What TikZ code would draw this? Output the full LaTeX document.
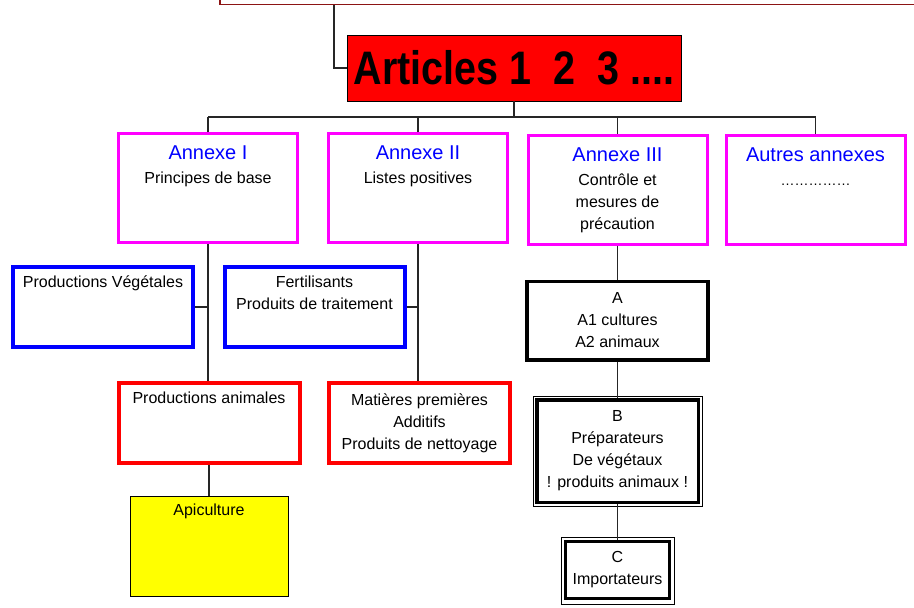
\documentclass[tikz,border=0pt]{standalone}
\usepackage{fontspec}
\setmainfont{Liberation Sans}
\newfontfamily\artfont[FakeStretch=0.84]{Liberation Sans}
\usepackage{tikz}
\definecolor{darkred}{RGB}{140,20,20}
\definecolor{annexmag}{RGB}{255,0,255}
\definecolor{boxblue}{RGB}{0,0,255}
\definecolor{boxred}{RGB}{255,0,0}
\definecolor{apiyellow}{RGB}{255,255,0}
\newcommand{\annexetitle}[1]{{\color{boxblue}\fontsize{20}{22}\selectfont #1}}

\begin{document}
\begin{tikzpicture}[x=1pt,y=-1pt,
    link/.style={draw=black!85,line width=1.2pt},
    bodytext/.style={align=center,font=\fontsize{16}{22}\selectfont},
    toptext/.style={bodytext,anchor=north,inner sep=0pt},
    topbox/.style={draw=darkred,line width=1.5pt,minimum width=700pt,minimum height=33pt},
    artbox/.style={draw=black,fill=boxred,line width=0.8pt,inner sep=0pt,minimum width=334pt,minimum height=66pt,font=\artfont\bfseries\fontsize{47}{47}\selectfont},
    annexe/.style={draw=annexmag,line width=3pt,minimum width=179pt,minimum height=109pt},
    bluebox/.style={draw=boxblue,line width=4pt,minimum width=180pt,minimum height=80pt},
    redbox/.style={draw=boxred,line width=4pt,minimum width=181pt,minimum height=80pt,bodytext},
    apibox/.style={draw=black,fill=apiyellow,line width=0.8pt,minimum width=158pt,minimum height=100pt},
    blackbox/.style={draw=black,line width=3.5pt,bodytext}]
  \path[use as bounding box,fill=white] (0,0) rectangle (914,608);

  % top: reglement and articles
  \node[topbox] (loi) at (570,-12) {};
  \node[artbox] (art) at (514,68) {Articles 1~~2~~3 ....};
  \coordinate (jct) at (334,0);
  \coordinate (bus) at (0,117);

  % annexes
  \node[annexe,label={[toptext,yshift=-14pt]north:{\annexetitle{Annexe I}\\[2pt]Principes de base}}] (a1) at (208,188) {};
  \node[annexe,label={[toptext,yshift=-14pt]north:{\annexetitle{Annexe II}\\[2pt]Listes positives}}] (a2) at (418,188) {};
  \node[annexe,label={[toptext,yshift=-14pt]north:{\annexetitle{Annexe III}\\[2pt]Contrôle et\\mesures de\\précaution}}] (a3) at (617.5,189.5) {};
  \node[annexe,label={[toptext,yshift=-14pt]north:{\annexetitle{Autres annexes}\\[2pt]{\fontsize{14}{22}\selectfont ……………}}}] (a4) at (815.5,189.5) {};

  % annexe I and II
  \node[bluebox,label={[toptext,yshift=-11pt]north:{Productions Végétales}}] (veg) at (103,307) {};
  \node[bluebox,label={[toptext,yshift=-11pt]north:{Fertilisants\\Produits de traitement}}] (fert) at (314.5,307) {};
  \node[redbox,label={[toptext,yshift=-11pt]north:{Productions animales}}] (anim) at (209,423) {};
  \node[redbox] (mat) at (419.5,423) {Matières premières\\Additifs\\Produits de nettoyage};
  \node[apibox,label={[toptext,yshift=-8pt]north:{Apiculture}}] (api) at (209,546.5) {};

  % annexe III
  \node[blackbox,minimum width=181pt,minimum height=78.5pt] (ca) at (617.5,320.5) {A\\A1 cultures\\A2 animaux};
  \node[blackbox,minimum width=161.5pt,minimum height=102.5pt] (cb) at (617.5,451) {B\\Préparateurs\\De végétaux\\! produits animaux !};
  \node[blackbox,line width=3pt,minimum width=104.5pt,minimum height=56.5pt] (cc) at (617.5,570) {C\\Importateurs};
  \draw[line width=0.8pt] ([shift={(-2pt,2pt)}]cb.north west) rectangle ([shift={(2pt,-2.5pt)}]cb.south east);
  \draw[line width=0.8pt] ([shift={(-2.5pt,3pt)}]cc.north west) rectangle ([shift={(3pt,-4.5pt)}]cc.south east);

  % connectors
  \draw[link] (jct |- loi.south) |- (art.west);
  \draw[link] (art.south) -- (art.south |- bus);
  \draw[link] (a1.north |- bus) -- (a4.north |- bus);
  \foreach \n in {a1,a2,a3,a4}
    \draw[link] (\n.north) -- (\n.north |- bus);
  \draw[link] (a1.south) -- (a1.south |- anim.north);
  \draw[link] (veg.east) -- (veg.east -| a1.south);
  \draw[link] (a2.south) -- (a2.south |- mat.north);
  \draw[link] (fert.east) -- (fert.east -| a2.south);
  \draw[link] (anim.south) -- (api.north);
  \draw[link] (a3.south) -- (ca.north);
  \draw[link] (ca.south) -- (cb.north);
  \draw[link] (cb.south) -- (cc.north);
\end{tikzpicture}
\end{document}
